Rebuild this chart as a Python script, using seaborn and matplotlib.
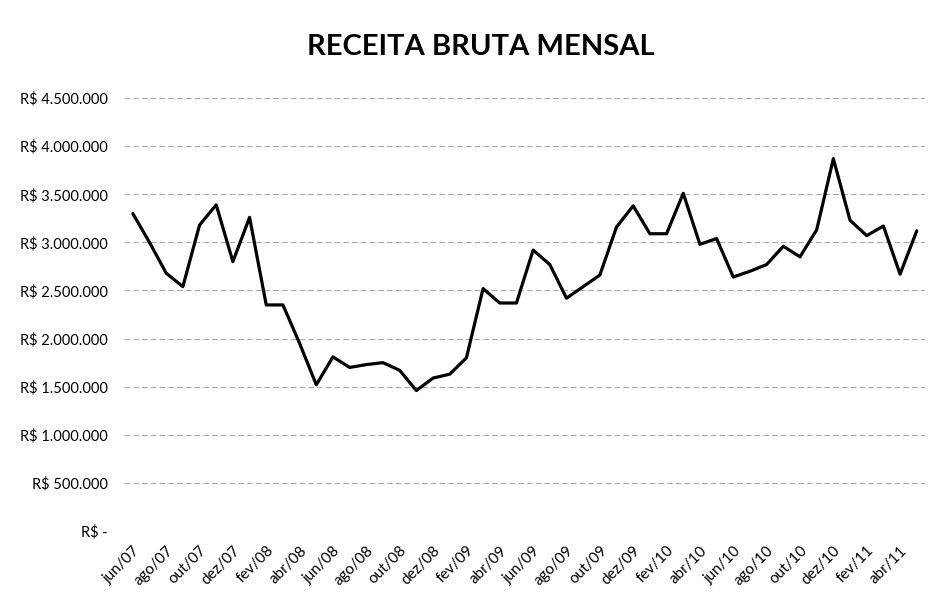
import matplotlib
matplotlib.use("Agg")
import matplotlib.pyplot as plt
import seaborn as sns
import pandas as pd
from matplotlib.ticker import FuncFormatter, MultipleLocator

# Monthly gross revenue, jun/2007 to mai/2011
months = [
    "jun/07", "jul/07", "ago/07", "set/07", "out/07", "nov/07", "dez/07",
    "jan/08", "fev/08", "mar/08", "abr/08", "mai/08", "jun/08", "jul/08",
    "ago/08", "set/08", "out/08", "nov/08", "dez/08",
    "jan/09", "fev/09", "mar/09", "abr/09", "mai/09", "jun/09", "jul/09",
    "ago/09", "set/09", "out/09", "nov/09", "dez/09",
    "jan/10", "fev/10", "mar/10", "abr/10", "mai/10", "jun/10", "jul/10",
    "ago/10", "set/10", "out/10", "nov/10", "dez/10",
    "jan/11", "fev/11", "mar/11", "abr/11", "mai/11",
]
revenue = [
    3300000, 3000000, 2680000, 2540000, 3180000, 3390000, 2800000,
    3260000, 2350000, 2350000, 1950000, 1520000, 1810000, 1700000,
    1730000, 1750000, 1670000, 1460000, 1590000,
    1630000, 1800000, 2520000, 2370000, 2370000, 2920000, 2770000,
    2420000, 2540000, 2660000, 3160000, 3380000,
    3090000, 3090000, 3510000, 2980000, 3040000, 2640000, 2700000,
    2770000, 2960000, 2850000, 3130000, 3870000,
    3230000, 3070000, 3170000, 2670000, 3120000,
]
title = "RECEITA BRUTA MENSAL"

df = pd.DataFrame({"pos": range(len(months)), "mes": months, "receita": revenue})

sns.set_style("white")
plt.rcParams["font.family"] = ["Lato", "DejaVu Sans"]

fig = plt.figure(figsize=(9.43, 5.98), dpi=100)
ax = fig.add_axes([0.132, 0.112, 0.849, 0.724])

sns.lineplot(data=df, x="pos", y="receita", ax=ax, color="black",
             linewidth=2.3, zorder=3)

ax.set_xlim(-0.5, len(months) - 0.5)
ax.set_ylim(0, 4500000)
ax.yaxis.set_major_locator(MultipleLocator(500000))


def brl(v, _pos):
    if v == 0:
        return "R$ -"
    return "R$ " + f"{v:,.0f}".replace(",", ".")


ax.yaxis.set_major_formatter(FuncFormatter(brl))
ax.grid(axis="y", color="#a8a8a8", linewidth=0.7, linestyle=(0, (6, 3)))
ax.grid(axis="x", visible=False)

tick_pos = list(range(0, len(months), 2))
ax.set_xticks(tick_pos)
ax.set_xticklabels([months[i] for i in tick_pos], rotation=45, ha="right",
                   rotation_mode="anchor", fontsize=11)
ax.tick_params(axis="y", labelsize=10.5, length=0, pad=12)
ax.tick_params(axis="x", length=0, pad=9)
for lbl in ax.get_xticklabels() + ax.get_yticklabels():
    lbl.set_color("black")

for side in ["top", "right", "left", "bottom"]:
    ax.spines[side].set_visible(False)

ax.set_xlabel("")
ax.set_ylabel("")
fig.text(0.51, 0.922, title, ha="center", va="center", fontsize=21,
         fontweight="bold", color="black")

fig.savefig("out.png", dpi=100, facecolor="white")
